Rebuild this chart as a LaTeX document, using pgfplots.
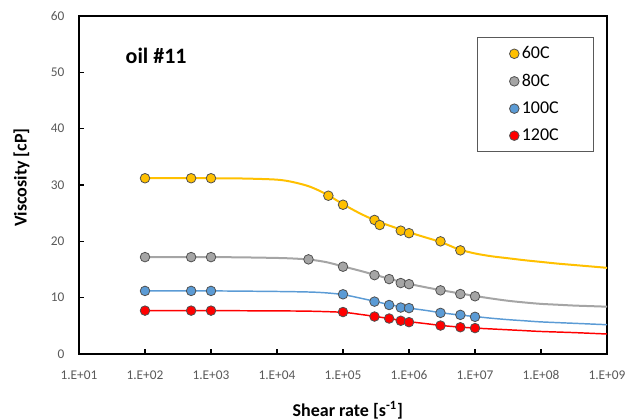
\documentclass[border=0pt]{standalone}
\usepackage{pgfplots}
\pgfplotsset{compat=1.18}
\usepackage{fontspec}
\setmainfont{Carlito}
\definecolor{cYel}{HTML}{FFC000}
\definecolor{cGry}{HTML}{A5A5A5}
\definecolor{cBlu}{HTML}{5B9BD5}
\definecolor{cRed}{HTML}{FF0000}
\definecolor{tickc}{HTML}{595959}
\definecolor{mkb}{HTML}{505050}
\begin{document}
\begin{tikzpicture}
\useasboundingbox (-59.25pt,-48.75pt) rectangle (413.25pt,265.5pt);
\begin{axis}[
  scale only axis,
  width=396pt, height=253.5pt,
  xmode=log, log basis x=10,
  xmin=1e1, xmax=1e9, ymin=0, ymax=60,
  xtick={1e1,1e2,1e3,1e4,1e5,1e6,1e7,1e8,1e9},
  xticklabels={1.E+01,1.E+02,1.E+03,1.E+04,1.E+05,1.E+06,1.E+07,1.E+08,1.E+09},
  minor xtick={},
  ytick={0,10,20,30,40,50,60},
  /pgf/number format/assume math mode=true,
  tick align=inside,
  major tick length=4pt,
  tick style={black, line width=0.8pt},
  xtick pos=bottom, ytick pos=left,
  axis line style={black, line width=1.1pt},
  ticklabel style={font=\fontsize{10}{12}\selectfont, text=tickc},
  xticklabel style={yshift=-9pt},
  yticklabel style={xshift=-7.5pt},
  xlabel={\textbf{Shear rate [s\textsuperscript{-1}]}},
  ylabel={\textbf{Viscosity [cP]}},
  label style={font=\fontsize{13.5}{15}\selectfont},
  xlabel style={at={(axis description cs:0.509,-0.166)}, anchor=center},
  ylabel style={at={(axis description cs:-0.109,0.522)}, anchor=center},
  legend style={at={(0.975,0.938)}, anchor=north east, draw=tickc, line width=0.6pt,
    font=\fontsize{13.5}{15}\selectfont, inner xsep=24pt, inner ysep=5pt, row sep=6pt},
  legend cell align=left,
  legend image code/.code={\draw[mark repeat=2,mark phase=2,#1] plot coordinates {(0pt,0pt) (4pt,0pt) (8pt,0pt)};},
  every axis plot/.append style={mark size=3.6pt},
]
% fitted curves
\addplot[cYel, line width=1.5pt, smooth, forget plot] coordinates {
(1e2,31.2)(1e3,31.2)(3.162e3,31.15)(1e4,30.95)(1.778e4,30.5)(3.162e4,29.7)(5.623e4,28.35)
(1e5,26.6)(1.778e5,25.0)(3.162e5,23.65)(5.623e5,22.6)(1e6,21.6)(1.778e6,20.7)(3.162e6,19.8)
(5.623e6,18.6)(1e7,17.85)(1.778e7,17.35)(3.162e7,17.0)(5.623e7,16.65)(1e8,16.35)(1.778e8,16.05)
(3.162e8,15.8)(5.623e8,15.55)(1e9,15.3)};
\addplot[cGry, line width=1.5pt, smooth, forget plot] coordinates {
(1e2,17.2)(1e3,17.2)(3.162e3,17.15)(1e4,17.05)(1.778e4,16.95)(3.162e4,16.75)(5.623e4,16.3)
(1e5,15.55)(1.778e5,14.8)(3.162e5,14.0)(5.623e5,13.2)(1e6,12.45)(1.778e6,11.85)(3.162e6,11.3)
(5.623e6,10.8)(1e7,10.3)(1.778e7,9.85)(3.162e7,9.45)(5.623e7,9.15)(1e8,8.9)(1.778e8,8.75)
(3.162e8,8.6)(5.623e8,8.5)(1e9,8.4)};
\addplot[cBlu, line width=1.1pt, smooth, forget plot] coordinates {
(1e2,11.2)(1e3,11.2)(1e4,11.1)(3.162e4,11.0)(5.623e4,10.85)(1e5,10.55)(1.778e5,9.95)
(3.162e5,9.3)(5.623e5,8.65)(1e6,8.15)(1.778e6,7.75)(3.162e6,7.3)(5.623e6,6.95)(1e7,6.65)
(1.778e7,6.35)(3.162e7,6.1)(5.623e7,5.9)(1e8,5.7)(3.162e8,5.45)(1e9,5.2)};
\addplot[cRed, line width=1.1pt, smooth, forget plot] coordinates {
(1e2,7.7)(1e3,7.7)(1e4,7.65)(3.162e4,7.6)(1e5,7.4)(1.778e5,7.05)(3.162e5,6.65)(5.623e5,6.2)
(1e6,5.75)(1.778e6,5.4)(3.162e6,5.05)(5.623e6,4.8)(1e7,4.6)(1.778e7,4.45)(3.162e7,4.3)
(5.623e7,4.15)(1e8,4.0)(3.162e8,3.8)(1e9,3.55)};
% measured points
\addplot[only marks, mark=*, mark options={fill=cYel, draw=mkb, line width=0.6pt}] coordinates {
(1e2,31.2)(5e2,31.2)(1e3,31.2)(6e4,28.1)(1e5,26.5)(3e5,23.8)(3.6e5,22.9)(7.5e5,21.9)(1e6,21.45)(3e6,20.0)(6e6,18.4)};
\addlegendentry{60C}
\addplot[only marks, mark=*, mark options={fill=cGry, draw=mkb, line width=0.6pt}] coordinates {
(1e2,17.2)(5e2,17.2)(1e3,17.2)(3e4,16.8)(1e5,15.5)(3e5,14.0)(5e5,13.3)(7.5e5,12.6)(1e6,12.4)(3e6,11.3)(6e6,10.65)(1e7,10.25)};
\addlegendentry{80C}
\addplot[only marks, mark=*, mark options={fill=cBlu, draw=mkb, line width=0.6pt}] coordinates {
(1e2,11.2)(5e2,11.2)(1e3,11.2)(1e5,10.6)(3e5,9.3)(5e5,8.7)(7.5e5,8.25)(1e6,8.15)(3e6,7.3)(6e6,6.95)(1e7,6.6)};
\addlegendentry{100C}
\addplot[only marks, mark=*, mark options={fill=cRed, draw=mkb, line width=0.6pt}] coordinates {
(1e2,7.7)(5e2,7.7)(1e3,7.7)(1e5,7.45)(3e5,6.65)(5e5,6.3)(7.5e5,5.9)(1e6,5.65)(3e6,5.05)(6e6,4.75)(1e7,4.6)};
\addlegendentry{120C}
\node[anchor=west, font=\fontsize{16.5}{18}\selectfont\bfseries, inner sep=0pt] at (rel axis cs:0.088,0.882) {oil \#11};
\end{axis}
\end{tikzpicture}
\end{document}
